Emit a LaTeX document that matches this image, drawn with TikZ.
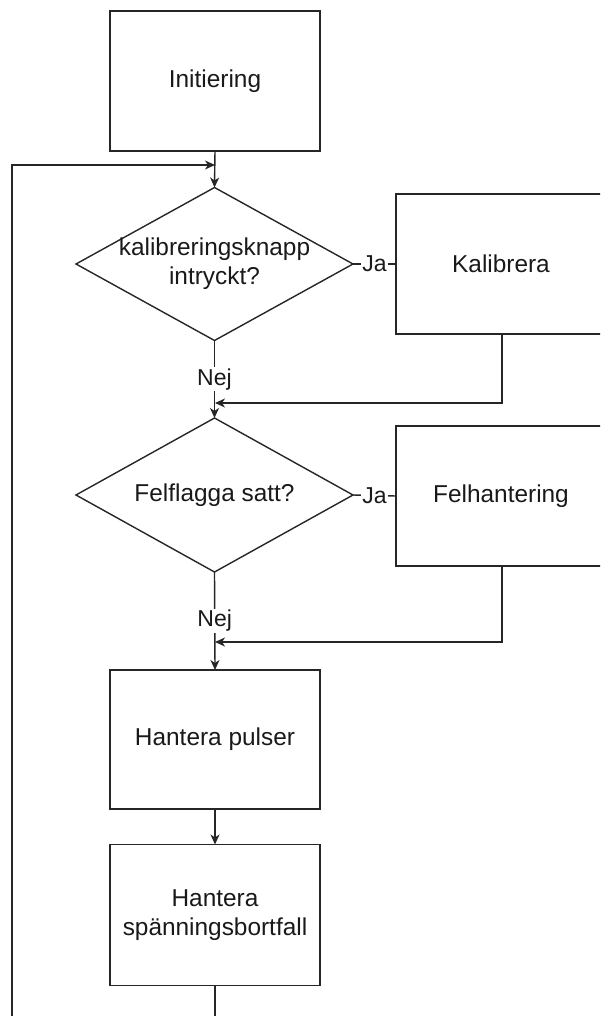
\documentclass[tikz,border=0pt]{standalone}
\usepackage{fontspec}
\setmainfont{Liberation Sans}
\usetikzlibrary{shapes.geometric,arrows.meta}
\newcommand{\nodefont}{\fontsize{24.4}{29}\selectfont}
\newcommand{\edgefont}{\fontsize{23}{27}\selectfont}
\begin{document}
\begin{tikzpicture}[x=1pt,y=-1pt,
  line/.style={draw=black!85,line width=1.4pt},
  arr/.style={line,-{Stealth[length=10pt,width=9pt,inset=3pt]}},
  stepbox/.style={line,rectangle,minimum width=210pt,minimum height=140pt,
    inner sep=0pt,outer sep=0pt,align=center,font=\nodefont,text=black!90},
  choice/.style={line,diamond,minimum width=277pt,minimum height=153pt,
    inner sep=0pt,outer sep=0pt},
  choicetext/.style={font=\nodefont,align=center,text=black!90,inner sep=0pt},
  lbl/.style={fill=white,font=\edgefont,text=black!90,inner sep=1.5pt}]
\useasboundingbox (0,0) rectangle (600,1016);
\clip (0,0) rectangle (600,1016);

% process steps
\node[stepbox] (init)  at (215,81)    {Initiering};
\node[stepbox] (kal)   at (501,264)   {Kalibrera};
\node[stepbox] (fel)   at (501,496)   {Felhantering};
\node[stepbox,minimum height=139pt] (puls)  at (215,739.5) {Hantera pulser};
\node[stepbox,minimum height=141pt] (spann) at (215,915)   {Hantera\\spänningsbortfall};

% decisions
\node[choice] (d1) at (214.5,264) {};
\node[choicetext] at (d1.center) {kalibreringsknapp\\intryckt?};
\node[choice,minimum height=154pt] (d2) at (214.5,495) {};
\node[choicetext] at (d2.center) {Felflagga satt?};

% junction points
\coordinate (j0) at (215,165);
\coordinate (j1) at (215,403);
\coordinate (j2) at (215,642);
\coordinate (lb) at (215,1040);
\coordinate (la) at (12,1040);
\coordinate (lt) at (12,165);

% connectors
\draw[arr] (init.south) -- (d1.north);
\draw[line] (d1.east) -- node[lbl] {Ja} (kal.west);
\draw[arr] (d1.south) -- node[lbl] {Nej} (d2.north);
\draw[arr] (kal.south) ++(1,0) |- (j1);
\draw[line] (d2.east) -- node[lbl] {Ja} (fel.west);
\draw[arr] (d2.south) -- node[lbl] {Nej} (puls.north);
\draw[arr] (fel.south) ++(1,0) |- (j2);
\draw[arr] (puls.south) -- (spann.north);
\draw[arr] (spann.south) -- (lb) -- (la) -- (lt) -- (j0);
\end{tikzpicture}
\end{document}
